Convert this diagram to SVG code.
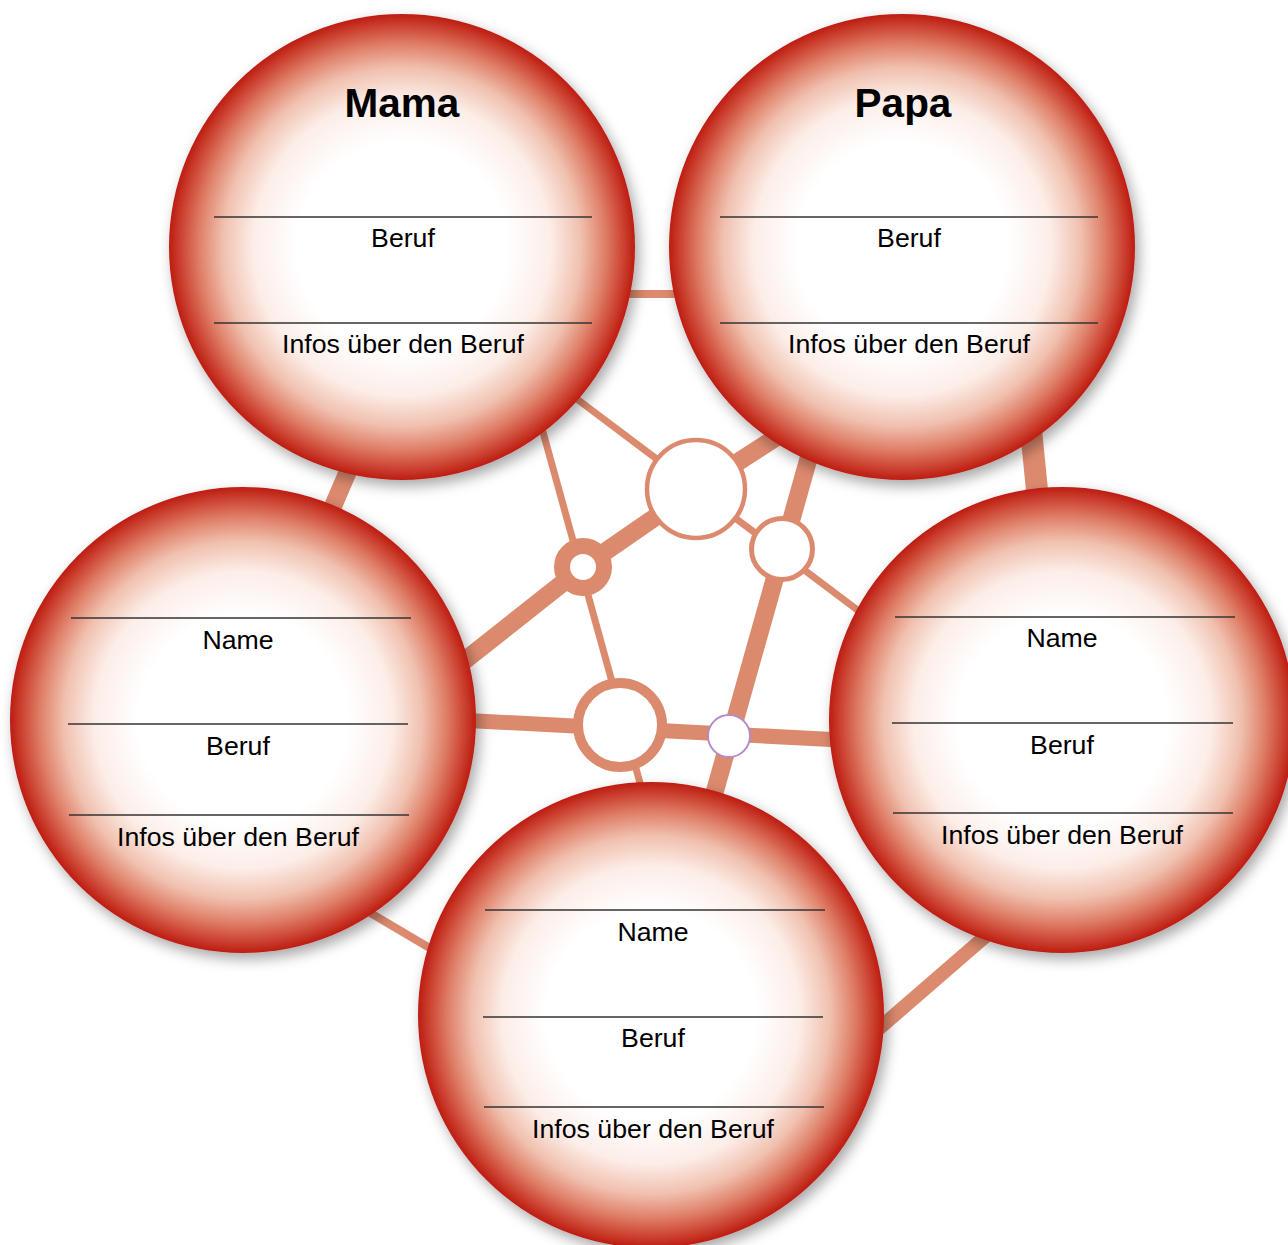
<svg xmlns="http://www.w3.org/2000/svg" width="1288" height="1245" viewBox="0 0 1288 1245">
<defs>
<radialGradient id="ball" cx="0.5" cy="0.5" r="0.5">
<stop offset="0" stop-color="#ffffff"/>
<stop offset="0.45" stop-color="#ffffff"/>
<stop offset="0.64" stop-color="#fcede7"/>
<stop offset="0.77" stop-color="#f0c0ae"/>
<stop offset="0.87" stop-color="#df8069"/>
<stop offset="0.95" stop-color="#cc4331"/>
<stop offset="1" stop-color="#bd1c12"/>
</radialGradient>
<filter id="shadow" x="-20%" y="-20%" width="140%" height="140%">
<feDropShadow dx="4" dy="6" stdDeviation="7" flood-color="#000" flood-opacity="0.35"/>
</filter>
</defs>
<style>
.con{stroke:#dc8a6e;fill:none;stroke-linecap:butt}
.ball{fill:url(#ball);filter:url(#shadow)}
.rule{stroke:#333;stroke-width:1.6}
.lbl{font-family:"Liberation Sans",Arial,sans-serif;font-size:26.7px;fill:#000;text-anchor:middle}
.ttl{font-family:"Liberation Sans",Arial,sans-serif;font-size:40.5px;font-weight:bold;fill:#000;text-anchor:middle}
.jn{fill:#fff;stroke:#dc8a6e}
</style>
<rect width="1288" height="1245" fill="#fff"/>
<g id="connectors">
<line class="con" x1="600" y1="294" x2="700" y2="294" stroke-width="8"/>
<line class="con" x1="370" y1="420" x2="310" y2="560" stroke-width="18"/>
<line class="con" x1="1028" y1="400" x2="1042" y2="540" stroke-width="22"/>
<line class="con" x1="340" y1="895" x2="450" y2="960" stroke-width="8"/>
<line class="con" x1="1010" y1="915" x2="860" y2="1045" stroke-width="14"/>
<line class="con" x1="545" y1="375" x2="880" y2="627" stroke-width="7"/>
<polyline class="con" points="440,680 583,567 696,489 800,422" stroke-width="18"/>
<line class="con" x1="530" y1="385" x2="648" y2="812" stroke-width="7"/>
<line class="con" x1="818" y1="425" x2="704" y2="830" stroke-width="18"/>
<line class="con" x1="440" y1="719" x2="860" y2="741" stroke-width="15"/>
</g>
<g id="junction-big"><circle class="jn" cx="696" cy="489" r="49" stroke-width="4.5"/></g>
<g id="junction-right"><circle class="jn" cx="782" cy="549" r="30.5" stroke-width="5"/></g>
<g id="junction-ring"><circle class="jn" cx="583" cy="567" r="21" stroke-width="16"/></g>
<g id="junction-low"><circle class="jn" cx="620" cy="725" r="42" stroke-width="10"/></g>
<g id="junction-purple"><circle cx="729" cy="736" r="21" fill="#fff" stroke="#b48cc8" stroke-width="2"/></g>
<g id="mama">
<circle class="ball" cx="402" cy="247" r="233"/>
<text class="ttl" x="402" y="117">Mama</text>
<line class="rule" x1="214" y1="217" x2="592" y2="217"/>
<text class="lbl" x="403" y="247">Beruf</text>
<line class="rule" x1="214" y1="323" x2="592" y2="323"/>
<text class="lbl" x="403" y="353">Infos über den Beruf</text>
</g>
<g id="papa">
<circle class="ball" cx="902" cy="247" r="233"/>
<text class="ttl" x="903" y="117">Papa</text>
<line class="rule" x1="720" y1="217" x2="1098" y2="217"/>
<text class="lbl" x="909" y="247">Beruf</text>
<line class="rule" x1="720" y1="323" x2="1098" y2="323"/>
<text class="lbl" x="909" y="353">Infos über den Beruf</text>
</g>
<g id="left">
<circle class="ball" cx="243" cy="720" r="233"/>
<line class="rule" x1="71" y1="618" x2="411" y2="618"/>
<text class="lbl" x="238" y="649">Name</text>
<line class="rule" x1="68" y1="724" x2="408" y2="724"/>
<text class="lbl" x="238" y="755">Beruf</text>
<line class="rule" x1="69" y1="815" x2="409" y2="815"/>
<text class="lbl" x="238" y="846">Infos über den Beruf</text>
</g>
<g id="right">
<circle class="ball" cx="1062" cy="720" r="233"/>
<line class="rule" x1="895" y1="617" x2="1235" y2="617"/>
<text class="lbl" x="1062" y="647">Name</text>
<line class="rule" x1="892" y1="723" x2="1233" y2="723"/>
<text class="lbl" x="1062" y="754">Beruf</text>
<line class="rule" x1="893" y1="813" x2="1233" y2="813"/>
<text class="lbl" x="1062" y="844">Infos über den Beruf</text>
</g>
<g id="bottom">
<circle class="ball" cx="651" cy="1015" r="233"/>
<line class="rule" x1="485" y1="910" x2="825" y2="910"/>
<text class="lbl" x="653" y="941">Name</text>
<line class="rule" x1="483" y1="1017" x2="823" y2="1017"/>
<text class="lbl" x="653" y="1047">Beruf</text>
<line class="rule" x1="484" y1="1107" x2="824" y2="1107"/>
<text class="lbl" x="653" y="1138">Infos über den Beruf</text>
</g>
</svg>
